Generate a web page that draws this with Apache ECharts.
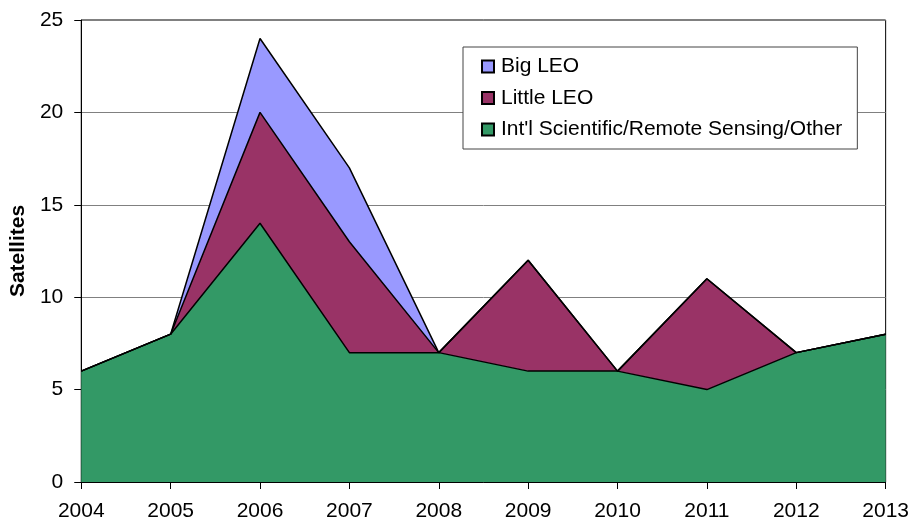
<!DOCTYPE html>
<html>
<head>
<meta charset="utf-8">
<script src="https://cdn.jsdelivr.net/npm/echarts@6/dist/echarts.min.js"></script>
<style>
  html, body { margin: 0; padding: 0; background: #fff; }
  #chart { width: 912px; height: 522px; }
</style>
</head>
<body>
<div id="chart"></div>
<script>
// Satellite launches per year, stacked by segment
const years = ['2004', '2005', '2006', '2007', '2008', '2009', '2010', '2011', '2012', '2013'];
const intlOther = [6, 8, 14, 7, 7, 6, 6, 5, 7, 8];
const littleLeo = [0, 0, 6, 6, 0, 6, 0, 6, 0, 0];
const bigLeo = [0, 0, 4, 4, 0, 0, 0, 0, 0, 0];
const yTicks = { min: 0, max: 25, interval: 5 };

const FONT = 'Liberation Sans, Arial, sans-serif';

function areaSeries(name, data, color) {
  return {
    name: name,
    type: 'line',
    stack: 'total',
    data: data,
    symbol: 'none',
    smooth: false,
    lineStyle: { color: '#000', width: 1.5 },
    areaStyle: { color: color, opacity: 1 },
    itemStyle: { color: color, borderColor: '#000', borderWidth: 1 },
    emphasis: { disabled: true }
  };
}

const chart = echarts.init(document.getElementById('chart'), null, { renderer: 'canvas' });
chart.setOption({
  animation: false,
  backgroundColor: '#fff',
  grid: {
    left: 80, right: 25, top: 20, bottom: 39,
    show: true, borderColor: '#000', borderWidth: 1
  },
  legend: {
    data: ['Big LEO', 'Little LEO', "Int'l Scientific/Remote Sensing/Other"],
    orient: 'vertical',
    left: 463, top: 47,
    padding: [9, 15, 9, 18],
    itemGap: 10.5,
    itemWidth: 12, itemHeight: 12,
    icon: 'rect',
    backgroundColor: '#fff',
    borderColor: '#444', borderWidth: 1,
    textStyle: { fontFamily: FONT, fontSize: 21, color: '#000', lineHeight: 21, padding: [0, 0, 0, 2] }
  },
  xAxis: {
    type: 'category',
    data: years,
    boundaryGap: false,
    axisLine: { lineStyle: { color: '#000', width: 1 } },
    axisTick: { show: true, length: 7, lineStyle: { color: '#000' } },
    axisLabel: { fontFamily: FONT, fontSize: 21, color: '#000', margin: 19 },
    splitLine: { show: false }
  },
  yAxis: {
    type: 'value',
    min: yTicks.min, max: yTicks.max, interval: yTicks.interval,
    name: 'Satellites',
    nameLocation: 'middle',
    nameGap: 49,
    nameTextStyle: { fontFamily: FONT, fontSize: 21, fontWeight: 'bold', color: '#000' },
    axisLine: { show: true, lineStyle: { color: '#000', width: 1 } },
    axisTick: { show: true, length: 7, lineStyle: { color: '#000' } },
    axisLabel: { fontFamily: FONT, fontSize: 21, color: '#000', margin: 18 },
    splitLine: { show: true, lineStyle: { color: '#808080', width: 1 } }
  },
  series: [
    areaSeries("Int'l Scientific/Remote Sensing/Other", intlOther, '#339966'),
    areaSeries('Little LEO', littleLeo, '#993366'),
    areaSeries('Big LEO', bigLeo, '#9999FF')
  ]
});
</script>
</body>
</html>
